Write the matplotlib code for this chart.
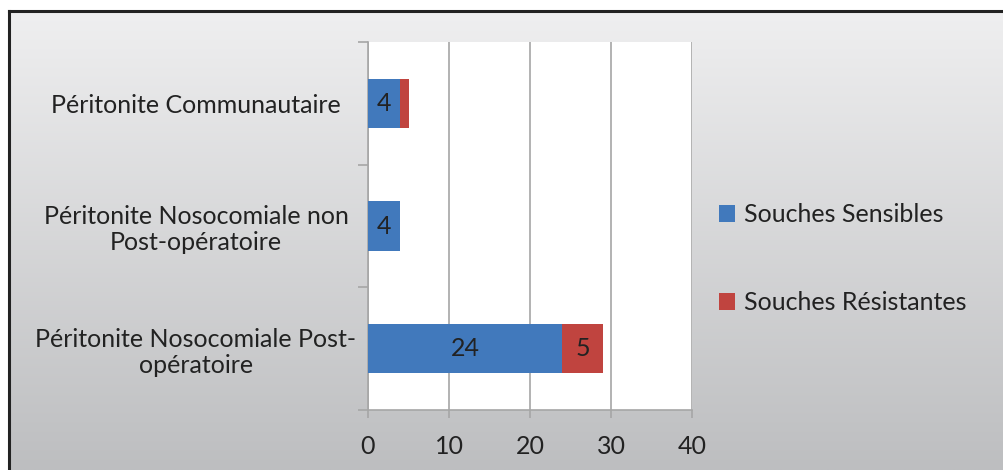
import matplotlib
matplotlib.use("Agg")
import matplotlib.pyplot as plt
import numpy as np
from matplotlib.patches import Patch

categories = ["Péritonite Communautaire",
              "Péritonite Nosocomiale non\nPost-opératoire",
              "Péritonite Nosocomiale Post-\nopératoire"]
sensibles = [4, 4, 24]
resistantes = [1, 0, 5]
series_names = ["Souches Sensibles", "Souches Résistantes"]
xticks = [0, 10, 20, 30, 40]

BLUE = "#4179bc"
RED = "#c0443f"
GRID = "#a6a6a6"
FONT = "Lato"
FS = 18

W, H = 1004, 470
fig = plt.figure(figsize=(W / 100, H / 100), dpi=100)
fig.patch.set_facecolor("white")

# gradient background panel with frame
bg = fig.add_axes([9 / W, 0, 1 - 9 / W, 1 - 11 / H], zorder=-10)
grad = np.linspace(0, 1, 256).reshape(-1, 1)
top = np.array([0xef, 0xef, 0xf0]) / 255
bot = np.array([0xbd, 0xbe, 0xc0]) / 255
img = top + (bot - top) * grad[..., None]
img = np.repeat(img, 2, axis=1)
bg.imshow(img, aspect="auto", extent=[0, 1, 0, 1], origin="upper")
bg.set_xlim(0, 1)
bg.set_ylim(0, 1)
bg.set_xticks([])
bg.set_yticks([])
for s in ["right", "bottom"]:
    bg.spines[s].set_visible(False)
for s in ["top", "left"]:
    bg.spines[s].set_color("#222222")
    bg.spines[s].set_linewidth(2.2)

# plot area
L, R, T, B = 368, 692, 42, 410
ax = fig.add_axes([L / W, 1 - B / H, (R - L) / W, (B - T) / H])
ax.set_facecolor("white")

n = len(categories)
ypos = np.arange(n)[::-1].astype(float)  # first category on top
bh = 0.4
ax.barh(ypos, sensibles, height=bh, color=BLUE, zorder=3)
ax.barh(ypos, resistantes, left=sensibles, height=bh, color=RED, zorder=3)

for y, s, r in zip(ypos, sensibles, resistantes):
    if s > 1:
        ax.text(s / 2, y, str(s), ha="center", va="center", fontsize=FS,
                family=FONT, color="#222222", zorder=4)
    if r > 1:
        ax.text(s + r / 2, y, str(r), ha="center", va="center", fontsize=FS,
                family=FONT, color="#222222", zorder=4)

ax.set_xlim(0, 40)
ax.set_ylim(-0.5, n - 0.5)
ax.set_xticks(xticks)
ax.set_xticklabels([str(t) for t in xticks], family=FONT, fontsize=FS, color="#222222")
ax.grid(axis="x", color=GRID, linewidth=1.2, zorder=1)
ax.set_axisbelow(True)

ax.set_yticks(ypos)
ax.set_yticklabels(categories, family=FONT, fontsize=FS, color="#222222",
                   ha="center", multialignment="center", linespacing=1.15)
ax.set_yticks(np.arange(n + 1) - 0.5, minor=True)
ax.tick_params(axis="y", which="major", length=0, pad=(L - 196) * 0.72)
ax.tick_params(axis="y", which="minor", length=7, color=GRID, width=1.2)
ax.tick_params(axis="x", length=6, color=GRID, width=1.2, pad=12)

for s in ["top", "right"]:
    ax.spines[s].set_visible(False)
for s in ["left", "bottom"]:
    ax.spines[s].set_color(GRID)
    ax.spines[s].set_linewidth(1.2)

handles = [Patch(facecolor=BLUE), Patch(facecolor=RED)]
leg = fig.legend(handles, series_names, loc="center left",
                 bbox_to_anchor=(709 / W, 1 - 259 / H),
                 frameon=False, prop={"family": FONT, "size": FS},
                 handlelength=0.65, handleheight=0.65, handletextpad=0.35,
                 labelspacing=2.6, borderaxespad=0)
for t in leg.get_texts():
    t.set_color("#222222")

fig.savefig("out.png", dpi=100)
